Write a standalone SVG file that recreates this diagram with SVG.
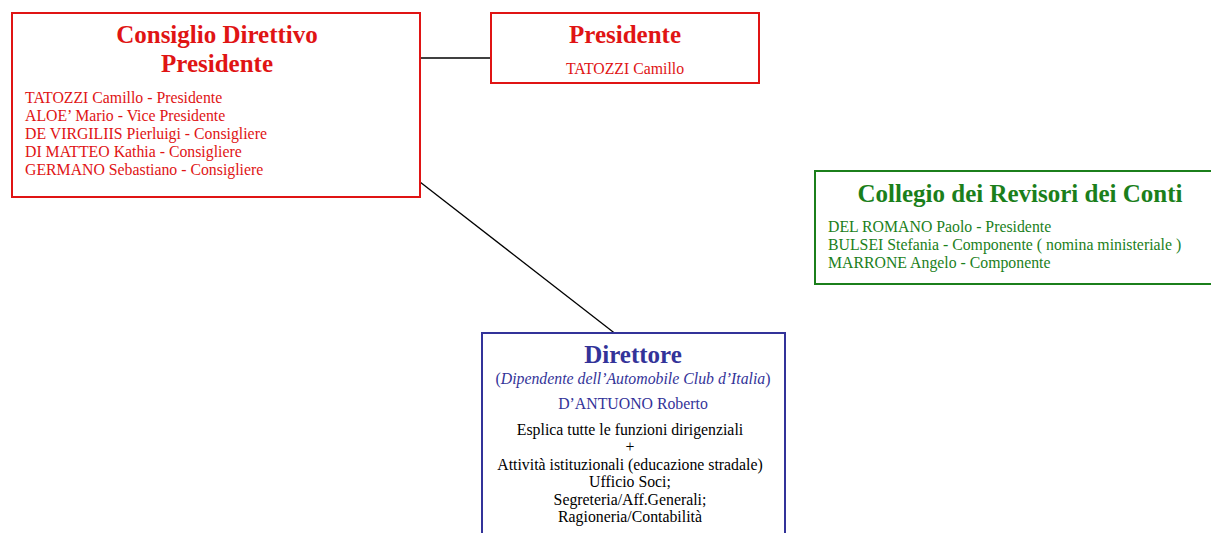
<svg xmlns="http://www.w3.org/2000/svg" width="1211" height="533" viewBox="0 0 1211 533">
<style>
text{font-family:"Liberation Serif","Times New Roman",serif}
.box{fill:#fff;stroke-width:2}
.red{fill:#e01414}
.grn{fill:#1b7f1b}
.blu{fill:#333399}
.blk{fill:#000}
.t{font-size:25px;font-weight:bold;text-anchor:middle}
.b{font-size:15.8px}
.c{text-anchor:middle}
.conn line{stroke:#000;stroke-width:1.3}
</style>
<rect width="1211" height="533" fill="#fff"/>
<g class="conn">
<line x1="420" y1="58" x2="491" y2="58"/>
<line x1="420" y1="182" x2="617" y2="335"/>
</g>
<g id="consiglio">
<rect class="box" x="12" y="13" width="408" height="184" stroke="#e01414"/>
<text class="t red" x="217" y="43">Consiglio Direttivo</text>
<text class="t red" x="217" y="72">Presidente</text>
<text class="b red" x="25" y="103">TATOZZI Camillo - Presidente</text>
<text class="b red" x="25" y="121">ALOE’ Mario - Vice Presidente</text>
<text class="b red" x="25" y="139">DE VIRGILIIS Pierluigi - Consigliere</text>
<text class="b red" x="25" y="157">DI MATTEO Kathia - Consigliere</text>
<text class="b red" x="25" y="175">GERMANO Sebastiano - Consigliere</text>
</g>
<g id="presidente">
<rect class="box" x="491" y="13" width="268" height="70" stroke="#e01414"/>
<text class="t red" x="625" y="43">Presidente</text>
<text class="b red c" x="625" y="74">TATOZZI Camillo</text>
</g>
<g id="revisori">
<rect class="box" x="815" y="171" width="400" height="113" stroke="#1b7f1b"/>
<text class="t grn" x="1020" y="202">Collegio dei Revisori dei Conti</text>
<text class="b grn" x="828" y="232">DEL ROMANO Paolo - Presidente</text>
<text class="b grn" x="828" y="250">BULSEI Stefania - Componente ( nomina ministeriale )</text>
<text class="b grn" x="828" y="268">MARRONE Angelo - Componente</text>
</g>
<g id="direttore">
<rect class="box" x="482" y="333" width="303" height="210" stroke="#333399"/>
<text class="t blu" x="633" y="363">Direttore</text>
<text class="b blu c" x="633" y="384">(<tspan font-style="italic">Dipendente dell’Automobile Club d’Italia</tspan>)</text>
<text class="b blu c" x="633" y="409">D’ANTUONO Roberto</text>
<text class="b blk c" x="630" y="435">Esplica tutte le funzioni dirigenziali</text>
<text class="b blk c" x="630" y="452">+</text>
<text class="b blk c" x="630" y="470">Attività istituzionali (educazione stradale)</text>
<text class="b blk c" x="630" y="487">Ufficio Soci;</text>
<text class="b blk c" x="630" y="505">Segreteria/Aff.Generali;</text>
<text class="b blk c" x="630" y="522">Ragioneria/Contabilità</text>
</g>
</svg>
